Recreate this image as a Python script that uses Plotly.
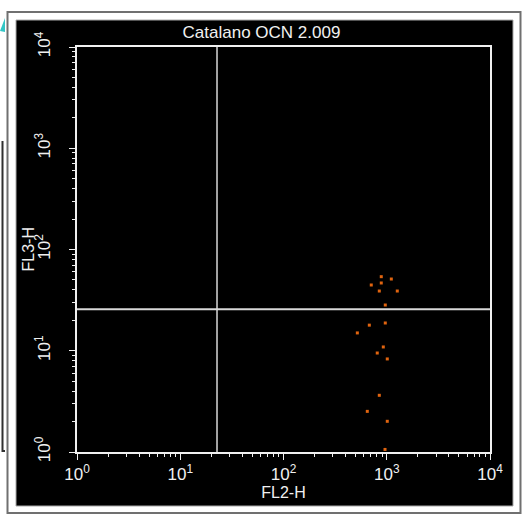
import plotly.graph_objects as go

# ---- data ----
title_text = "Catalano OCN 2.009"
x_label = "FL2-H"
y_label = "FL3-H"
fl2_values = [885, 1107, 708, 885, 847, 1265, 968, 968, 678, 519, 926, 809, 1012, 847, 648, 1012, 962]
fl3_values = [53.9, 51.1, 44.6, 46.7, 38.9, 38.9, 28.3, 18.8, 17.9, 15.0, 10.9, 9.5, 8.3, 3.63, 2.52, 2.01, 1.06]
gate_x = 22.7
gate_y = 25.7
decades = [1, 10, 100, 1000, 10000]
tick_labels = ["10<sup>0</sup>", "10<sup>1</sup>", "10<sup>2</sup>", "10<sup>3</sup>", "10<sup>4</sup>"]
minor_ticks = [m * d for d in decades[:-1] for m in range(2, 10)]

W, H = 525, 518
L, R, T, B = 77, 35, 47, 66
PW, PH = W - L - R, H - T - B


def px(x):
    return (x - L) / PW


def py(y):
    return (H - B - y) / PH


FONT = "Liberation Sans, Arial, sans-serif"
WHITE = "#f0f0f0"

fig = go.Figure()

# gate lines
fig.add_trace(go.Scatter(x=[decades[0], decades[-1]], y=[gate_y, gate_y], mode="lines",
                         line=dict(color="#d8d8d8", width=2), hoverinfo="skip", showlegend=False))
fig.add_trace(go.Scatter(x=[gate_x, gate_x], y=[decades[0], decades[-1]], mode="lines",
                         line=dict(color="#d8d8d8", width=1.5), hoverinfo="skip", showlegend=False))
# events
fig.add_trace(go.Scatter(x=fl2_values, y=fl3_values, mode="markers",
                         marker=dict(symbol="square", size=3, color="#e0640f", line=dict(width=0)),
                         showlegend=False))

axis_common = dict(
    type="log", range=[0, 4], showgrid=False, zeroline=False,
    showline=True, linecolor=WHITE, linewidth=2, mirror=True,
    ticks="outside", ticklen=6, tickwidth=1, tickcolor=WHITE,
    tickmode="array", tickvals=decades, ticktext=tick_labels,
    tickfont=dict(family=FONT, size=17, color=WHITE),
    minor=dict(ticks="outside", ticklen=3, tickwidth=1, tickcolor=WHITE,
               tickmode="array", tickvals=minor_ticks, showgrid=False),
)

fig.update_xaxes(**axis_common,
                 title=dict(text=x_label, font=dict(family=FONT, size=16, color=WHITE), standoff=2))
fig.update_yaxes(**axis_common, tickangle=-90, ticklabelstandoff=12)

shapes = [
    # outer window frame
    dict(type="rect", xref="paper", yref="paper", layer="below",
         x0=px(7.5), x1=px(520.5), y0=py(513), y1=py(12),
         line=dict(color="#707070", width=2), fillcolor="white"),
    # black panel
    dict(type="rect", xref="paper", yref="paper", layer="below",
         x0=px(16), x1=px(513), y0=py(506), y1=py(20),
         line=dict(color="#a8a8a8", width=1), fillcolor="black"),
    # left edge artifacts
    dict(type="path", xref="paper", yref="paper", layer="below",
         path="M {} {} L {} {} L {} {}".format(px(2.5), py(141), px(2.5), py(451), px(5), py(451)),
         line=dict(color="#303030", width=2)),
    dict(type="path", xref="paper", yref="paper", layer="below",
         path="M {} {} L {} {} L {} {} Z".format(px(0), py(31), px(5), py(18), px(5), py(32)),
         line=dict(width=0), fillcolor="#33c6c6"),
]

fig.update_layout(
    width=W, height=H,
    margin=dict(l=L, r=R, t=T, b=B),
    paper_bgcolor="white", plot_bgcolor="black",
    shapes=shapes,
    annotations=[dict(text=y_label, xref="paper", yref="paper", x=px(28), y=0.5,
                      xanchor="center", yanchor="middle", textangle=-90, showarrow=False,
                      font=dict(family=FONT, size=16, color=WHITE))],
    title=dict(text=title_text, x=261.5 / W, xref="container", xanchor="center",
               y=1 - 32 / H, yref="container", yanchor="middle",
               font=dict(family=FONT, size=17, color=WHITE)),
    showlegend=False,
)

fig.write_html("out.html", config={"displayModeBar": False},
               post_script="document.body.style.margin='0px';document.body.style.overflow='hidden';")
